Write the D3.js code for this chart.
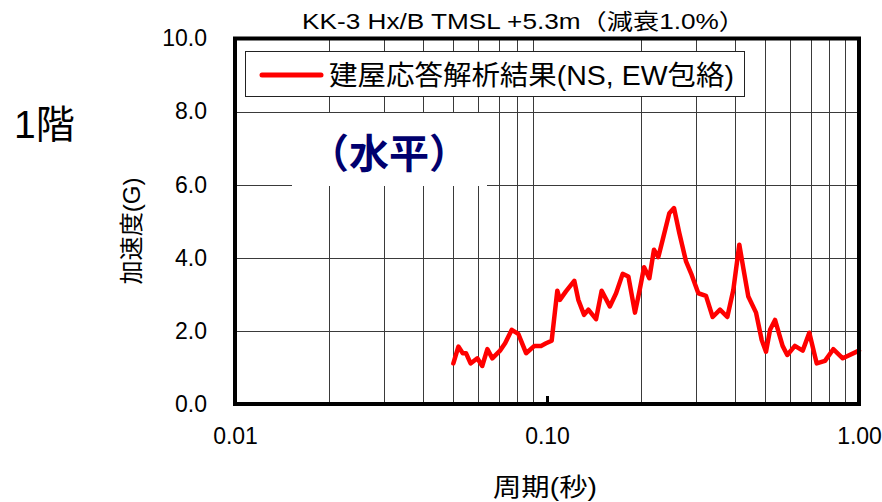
<!DOCTYPE html>
<html>
<head>
<meta charset="utf-8">
<script src="https://cdn.jsdelivr.net/npm/d3@7"></script>
<style>
  html, body { margin: 0; padding: 0; background: #fff; }
  svg { display: block; }
  text { font-family: "Liberation Sans", Arial, "Noto Sans CJK JP", sans-serif; fill: #000; }
</style>
</head>
<body>
<svg id="chart" width="882" height="502"></svg>
<script>
// Response spectrum, envelope of NS and EW (period in s, acceleration in G)
const periods = [0.0501, 0.052, 0.0537, 0.055, 0.0569, 0.0598, 0.062, 0.0644, 0.0668, 0.0707,
  0.0734, 0.0771, 0.0809, 0.0857, 0.0911, 0.0957, 0.0993, 0.1035, 0.1079, 0.110,
  0.115, 0.1223, 0.126, 0.1314, 0.1357, 0.1436, 0.1497, 0.159, 0.1665, 0.1748,
  0.1823, 0.1914, 0.1977, 0.2047, 0.2128, 0.2202, 0.2274, 0.2348, 0.2466, 0.2553,
  0.2655, 0.279, 0.2909, 0.3055, 0.3233, 0.3396, 0.3585, 0.3784, 0.3955, 0.4134,
  0.4258, 0.4418, 0.4677, 0.4877, 0.5034, 0.5187, 0.5381, 0.569, 0.589, 0.623,
  0.660, 0.693, 0.732, 0.778, 0.827, 0.887, 1.00];
const accel = [1.11, 1.57, 1.39, 1.39, 1.11, 1.25, 1.04, 1.50, 1.25, 1.46,
  1.66, 2.03, 1.92, 1.39, 1.59, 1.59, 1.66, 1.73, 3.10, 2.85,
  3.08, 3.37, 2.85, 2.44, 2.58, 2.32, 3.10, 2.67, 3.03, 3.56,
  3.49, 2.50, 3.08, 3.74, 3.44, 4.22, 4.02, 4.49, 5.22, 5.36,
  4.68, 3.90, 3.53, 3.03, 2.96, 2.38, 2.58, 2.38, 3.12, 4.36,
  3.72, 2.94, 2.50, 1.75, 1.43, 2.03, 2.30, 1.59, 1.34, 1.59,
  1.46, 1.95, 1.11, 1.18, 1.50, 1.25, 1.46];

const xTicks = [0.01, 0.1, 1];
const xTickLabels = ["0.01", "0.10", "1.00"];
const yTicks = [0, 2, 4, 6, 8, 10];
const yTickLabels = ["0.0", "2.0", "4.0", "6.0", "8.0", "10.0"];
const minorPeriods = [0.02, 0.03, 0.04, 0.05, 0.06, 0.07, 0.08, 0.09,
  0.2, 0.3, 0.4, 0.5, 0.6, 0.7, 0.8, 0.9];

const titleText = "KK-3 Hx/B TMSL +5.3m（減衰1.0%）";
const legendText = "建屋応答解析結果(NS, EW包絡)";
const floorText = "1階";
const directionText = "（水平）";
const xTitle = "周期(秒)";
const yTitle = "加速度(G)";

const svg = d3.select("#chart");
const plotL = 235, plotR = 859, plotT = 38.5, plotB = 404;

const x = d3.scaleLog().domain([0.01, 1]).range([plotL, plotR]);
const y = d3.scaleLinear().domain([0, 10]).range([plotB, plotT]);

// grid
const grid = svg.append("g").attr("stroke", "#3a3a3a").attr("stroke-width", 1);
grid.selectAll("line.v").data(minorPeriods).join("line")
  .attr("class", "v")
  .attr("x1", d => Math.round(x(d)) + 0.5).attr("x2", d => Math.round(x(d)) + 0.5)
  .attr("y1", plotT).attr("y2", plotB);
grid.selectAll("line.h").data(yTicks.slice(1, -1)).join("line")
  .attr("class", "h")
  .attr("x1", plotL).attr("x2", plotR)
  .attr("y1", d => Math.round(y(d)) + 0.5).attr("y2", d => Math.round(y(d)) + 0.5);

// white panel behind the direction label
svg.append("rect")
  .attr("x", 292).attr("y", 113).attr("width", 195).attr("height", 73)
  .attr("fill", "#fff");
svg.append("text")
  .attr("x", 309).attr("y", 168)
  .attr("font-size", 40).attr("font-weight", "bold")
  .style("font-family", "'Noto Sans CJK JP', sans-serif")
  .style("fill", "#00006e")
  .text(directionText);

// legend
const legend = svg.append("g");
legend.append("rect")
  .attr("x", 245.5).attr("y", 51.5).attr("width", 499).attr("height", 45)
  .attr("fill", "#fff").attr("stroke", "#222").attr("stroke-width", 1);
legend.append("line")
  .attr("x1", 262).attr("x2", 321).attr("y1", 75).attr("y2", 75)
  .attr("stroke", "#ff0000").attr("stroke-width", 5).attr("stroke-linecap", "round");
legend.append("text")
  .attr("x", 329).attr("y", 85)
  .attr("font-size", 27)
  .attr("textLength", 405).attr("lengthAdjust", "spacingAndGlyphs")
  .text(legendText);

// spectrum curve
const pts = periods.map((p, i) => [p, accel[i]]);
svg.append("path")
  .datum(pts)
  .attr("fill", "none")
  .attr("stroke", "#ff0000")
  .attr("stroke-width", 4.5)
  .attr("stroke-linejoin", "round")
  .attr("stroke-linecap", "round")
  .attr("d", d3.line().x(d => x(d[0])).y(d => y(d[1])));

// x axis: major ticks drawn inward from the bottom frame
const xAxis = d3.axisBottom(x).tickValues(xTicks)
  .tickFormat((d, i) => xTickLabels[i]).tickSize(-8).tickPadding(24);
const gx = svg.append("g").attr("transform", `translate(0,${plotB})`).call(xAxis);
gx.select(".domain").remove();
gx.selectAll(".tick line").attr("stroke", "#000").attr("stroke-width", 3);
gx.selectAll(".tick text").attr("font-size", 23)
  .style("font-family", "'Liberation Sans', Arial, sans-serif").attr("dy", "0.71em");

// y axis labels
const yAxis = d3.axisLeft(y).tickValues(yTicks)
  .tickFormat((d, i) => yTickLabels[i]).tickSize(0).tickPadding(28);
const gy = svg.append("g").attr("transform", `translate(${plotL},0)`).call(yAxis);
gy.select(".domain").remove();
gy.selectAll(".tick text").attr("font-size", 23)
  .style("font-family", "'Liberation Sans', Arial, sans-serif");

// frame
svg.append("rect")
  .attr("x", plotL).attr("y", plotT).attr("width", plotR - plotL).attr("height", plotB - plotT)
  .attr("fill", "none").attr("stroke", "#000").attr("stroke-width", 4);

// titles
svg.append("text")
  .attr("x", 302).attr("y", 29)
  .attr("font-size", 22)
  .attr("textLength", 443).attr("lengthAdjust", "spacingAndGlyphs")
  .text(titleText);
svg.append("text")
  .attr("x", 14).attr("y", 138)
  .attr("font-size", 39)
  .text(floorText);
svg.append("text")
  .attr("x", 493).attr("y", 496)
  .attr("font-size", 25)
  .attr("textLength", 104).attr("lengthAdjust", "spacingAndGlyphs")
  .text(xTitle);
svg.append("text")
  .attr("transform", "translate(140,231) rotate(-90)")
  .attr("text-anchor", "middle")
  .attr("font-size", 24)
  .attr("textLength", 107).attr("lengthAdjust", "spacingAndGlyphs")
  .text(yTitle);
</script>
</body>
</html>
